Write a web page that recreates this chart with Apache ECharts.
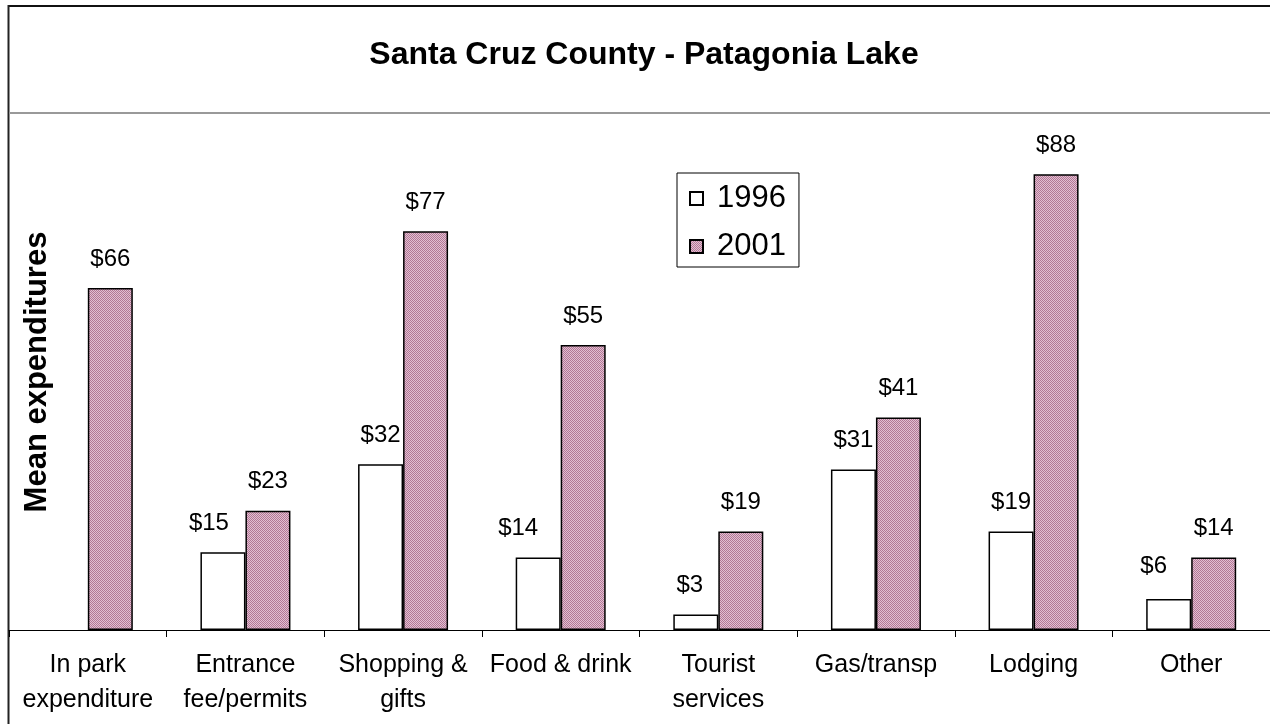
<!DOCTYPE html>
<html>
<head>
<meta charset="utf-8">
<script src="https://cdn.jsdelivr.net/npm/echarts@6/dist/echarts.min.js"></script>
<style>
html,body{margin:0;padding:0;background:#fff;}
#chart{width:1270px;height:724px;}
</style>
</head>
<body>
<div id="chart"></div>
<script>
var titleText = 'Santa Cruz County - Patagonia Lake';
var yAxisName = 'Mean expenditures';
var categories = ['In park\nexpenditure', 'Entrance\nfee/permits', 'Shopping &\ngifts', 'Food & drink', 'Tourist\nservices', 'Gas/transp', 'Lodging', 'Other'];
var seriesNames = ['1996', '2001'];
var values1996 = [null, 15, 32, 14, 3, 31, 19, 6];
var values2001 = [66, 23, 77, 55, 19, 41, 88, 14];
// manual label nudges (pixels) for the 1996 labels, as placed in the original
var labelNudge1996 = [[0, 0], [-14, 0], [0, 0], [-20, 0], [-6, 0], [0, 0], [0, 0], [-15, -4]];

var FONT = '"Liberation Sans", Arial, sans-serif';

// dotted pink pattern
var pc = document.createElement('canvas');
pc.width = 2; pc.height = 2;
var g = pc.getContext('2d');
g.fillStyle = '#e2bfd2'; g.fillRect(0,0,2,2);
g.fillStyle = '#b27895'; g.fillRect(0,0,1,1); g.fillRect(1,1,1,1);
var pinkPattern = { image: pc, repeat: 'repeat' };

var chart = echarts.init(document.getElementById('chart'));
function labelStyle() {
  return {
    show: true, position: 'top', distance: 17,
    fontFamily: FONT, fontSize: 24, color: '#000',
    formatter: function (p) { return '$' + p.value; }
  };
}
var data1996 = values1996.map(function (v, i) {
  return { value: v, label: { offset: labelNudge1996[i] } };
});
chart.setOption({
  animation: false,
  backgroundColor: '#fff',
  title: {
    text: titleText, left: 639, top: 34, textAlign: 'center',
    textStyle: { fontFamily: FONT, fontSize: 32, fontWeight: 'bold', color: '#000' }
  },
  legend: {
    left: 677, top: 173, orient: 'vertical',
    data: seriesNames,
    icon: 'rect',
    itemWidth: 13, itemHeight: 13, itemGap: 17,
    borderColor: '#000', borderWidth: 1,
    padding: [10, 13, 5, 12],
    textStyle: { fontFamily: FONT, fontSize: 31, color: '#000', lineHeight: 31, padding: [0, 0, 0, 9] }
  },
  grid: { left: 9, top: 112, width: 1266, height: 518, containLabel: false },
  xAxis: {
    type: 'category', data: categories,
    axisLine: { lineStyle: { color: '#000', width: 1 } },
    axisTick: { show: true, length: 7, lineStyle: { color: '#000' } },
    axisLabel: { interval: 0, margin: 18, fontFamily: FONT, fontSize: 25, lineHeight: 35, color: '#000' }
  },
  yAxis: {
    type: 'value', min: 0, max: 100,
    axisLine: { show: false }, axisTick: { show: false },
    axisLabel: { show: false }, splitLine: { show: false }
  },
  series: [
    {
      name: seriesNames[0], type: 'bar', data: data1996,
      barWidth: 45, barGap: '0%',
      itemStyle: { color: '#fff', borderColor: '#000', borderWidth: 1.5 },
      label: labelStyle()
    },
    {
      name: seriesNames[1], type: 'bar', data: values2001,
      barWidth: 45,
      itemStyle: { color: pinkPattern, borderColor: '#000', borderWidth: 1.5 },
      label: labelStyle()
    }
  ],
  graphic: [
    { type: 'line', silent: true, shape: { x1: 8, y1: 6, x2: 1270, y2: 6 }, style: { stroke: '#111', lineWidth: 2 } },
    { type: 'line', silent: true, shape: { x1: 8.5, y1: 5, x2: 8.5, y2: 724 }, style: { stroke: '#222', lineWidth: 2 } },
    { type: 'line', silent: true, shape: { x1: 9, y1: 113, x2: 1270, y2: 113 }, style: { stroke: '#999', lineWidth: 2 } },
    { type: 'text', silent: true, x: 37, y: 372, rotation: Math.PI / 2,
      style: { text: yAxisName, fontFamily: FONT, fontSize: 31, fontWeight: 'bold', fill: '#000', align: 'center', verticalAlign: 'middle' } }
  ]
});
</script>
</body>
</html>
